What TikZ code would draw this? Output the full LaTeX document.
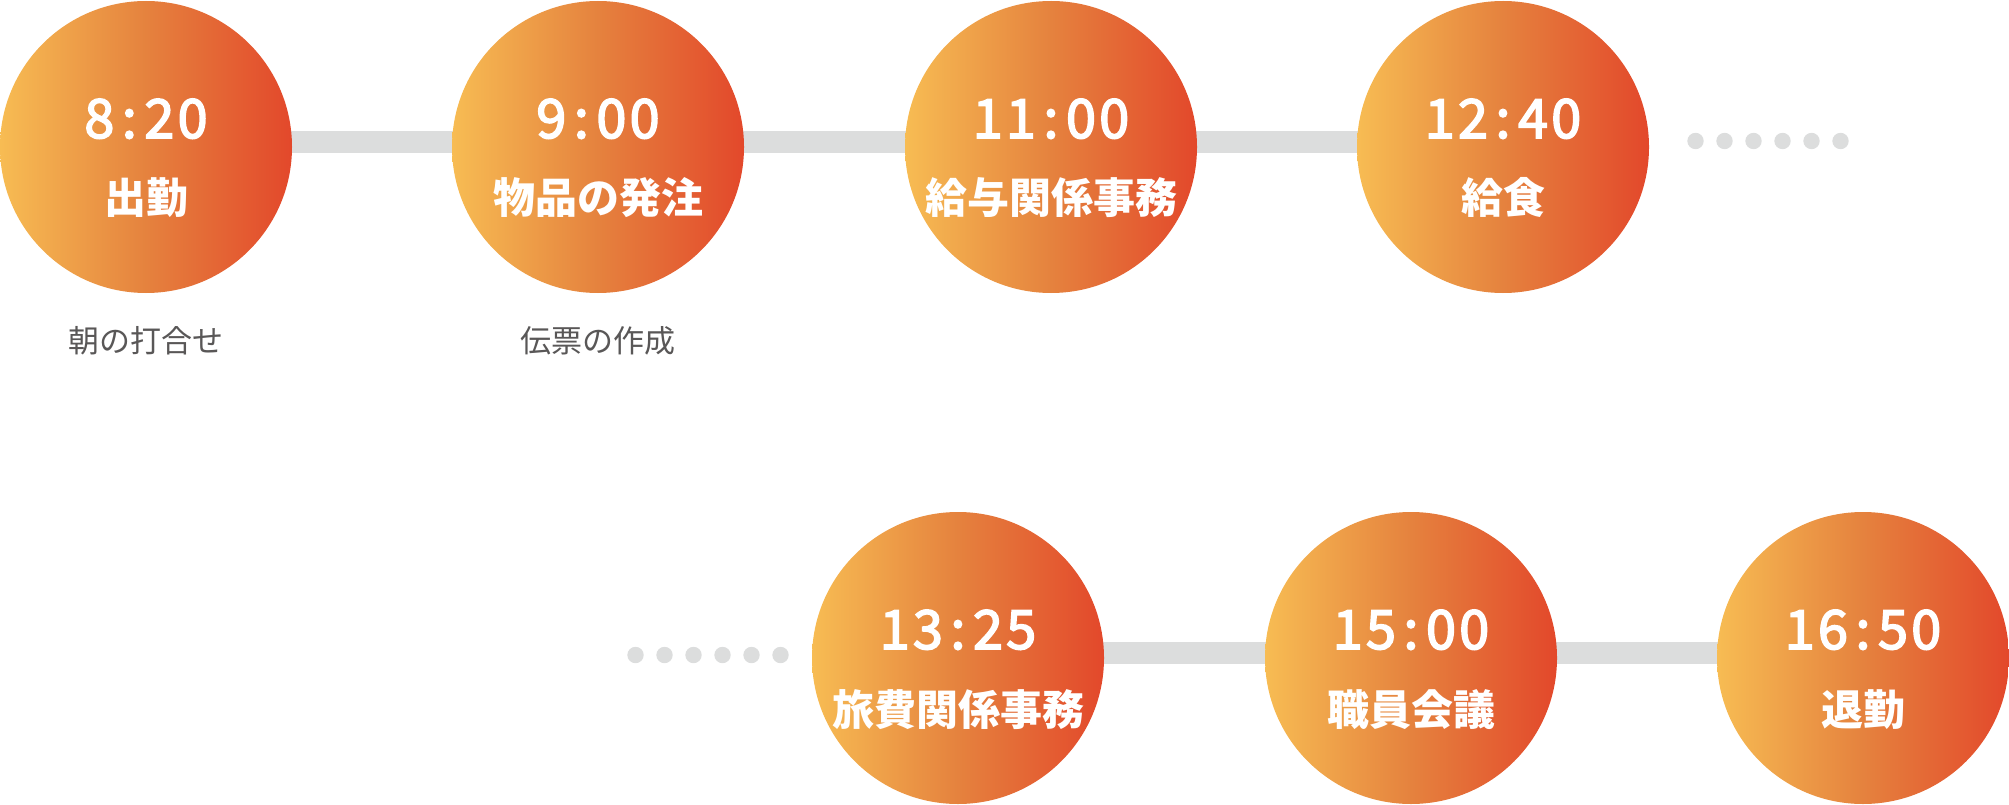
\documentclass[tikz,border=0pt]{standalone}
\usepackage{fontspec}
\newfontfamily\jpfont{Noto Sans CJK JP}
\newfontfamily\timefont[LetterSpace=6,FakeBold=3]{Noto Sans CJK JP}
\usetikzlibrary{backgrounds}

\definecolor{bargray}{RGB}{220,221,221}
\definecolor{subgray}{RGB}{89,87,87}
\definecolor{gradleft}{RGB}{247,188,83}
\definecolor{gradmid}{RGB}{229,130,62}
\definecolor{gradright}{RGB}{227,72,43}

\newcommand{\clock}[2]{#1\kern0.14em:\kern0.14em#2}

\begin{document}
\begin{tikzpicture}[x=1pt,y=-1pt,
    timecircle/.style={circle, minimum size=292pt, inner sep=0pt,
      left color=gradleft, right color=gradright, middle color=gradmid},
    timetext/.style={anchor=base, text=white, inner sep=0pt,
      font=\timefont\fontsize{54}{54}\selectfont},
    tasktext/.style={anchor=base, text=white, inner sep=0pt,
      font=\jpfont\bfseries\fontsize{42}{42}\selectfont},
    subtext/.style={anchor=base, text=subgray, inner sep=0pt,
      font=\jpfont\fontsize{31}{31}\selectfont},
    bar/.style={line width=22pt, draw=bargray},
    dot/.style={fill=bargray}]

    \useasboundingbox (0,0) rectangle (2009,805);

    % upper row
    \node[timecircle] (c1) at (146,147) {};
    \node[timecircle] (c2) at (598,147) {};
    \node[timecircle] (c3) at (1051,147) {};
    \node[timecircle] (c4) at (1503,147) {};

    % lower row
    \node[timecircle] (c5) at (958,658) {};
    \node[timecircle] (c6) at (1411,658) {};
    \node[timecircle] (c7) at (1863,658) {};

    % bars
    \begin{scope}[on background layer]
        \draw[bar] ([yshift=5pt]c1.center) -- ([yshift=5pt]c2.center);
        \draw[bar] ([yshift=5pt]c2.center) -- ([yshift=5pt]c3.center);
        \draw[bar] ([yshift=5pt]c3.center) -- ([yshift=5pt]c4.center);
        \draw[bar] ([yshift=5pt]c5.center) -- ([yshift=5pt]c6.center);
        \draw[bar] ([yshift=5pt]c6.center) -- ([yshift=5pt]c7.center);
    \end{scope}

    % times
    \node[timetext] (t1) at ([yshift=9pt]c1.center) {\clock{8}{20}};
    \node[timetext] (t2) at ([yshift=9pt]c2.center) {\clock{9}{00}};
    \node[timetext] (t3) at ([yshift=9pt]c3.center) {\clock{11}{00}};
    \node[timetext] (t4) at ([yshift=9pt]c4.center) {\clock{12}{40}};
    \node[timetext] (t5) at ([yshift=9pt]c5.center) {\clock{13}{25}};
    \node[timetext] (t6) at ([yshift=9pt]c6.center) {\clock{15}{00}};
    \node[timetext] (t7) at ([yshift=9pt]c7.center) {\clock{16}{50}};

    % tasks
    \node[tasktext] (w1) at ([yshift=-67pt]c1.center) {出勤};
    \node[tasktext] (w2) at ([yshift=-67pt]c2.center) {物品の発注};
    \node[tasktext] (w3) at ([yshift=-67pt]c3.center) {給与関係事務};
    \node[tasktext] (w4) at ([yshift=-67pt]c4.center) {給食};
    \node[tasktext] (w5) at ([yshift=-67pt]c5.center) {旅費関係事務};
    \node[tasktext] (w6) at ([yshift=-67pt]c6.center) {職員会議};
    \node[tasktext] (w7) at ([yshift=-67pt]c7.center) {退勤};

    % notes below
    \node[subtext] (n1) at ([yshift=-205pt]c1.center) {朝の打合せ};
    \node[subtext] (n2) at ([yshift=-205pt]c2.center) {伝票の作成};

    % dots
    \fill[dot] (1695.5,141) circle (8.2);
    \fill[dot] (1724.5,141) circle (8.2);
    \fill[dot] (1753.5,141) circle (8.2);
    \fill[dot] (1782.5,141) circle (8.2);
    \fill[dot] (1811.5,141) circle (8.2);
    \fill[dot] (1840.5,141) circle (8.2);

    \fill[dot] (635.5,655) circle (8.2);
    \fill[dot] (664.5,655) circle (8.2);
    \fill[dot] (693.5,655) circle (8.2);
    \fill[dot] (722.5,655) circle (8.2);
    \fill[dot] (751.5,655) circle (8.2);
    \fill[dot] (780.5,655) circle (8.2);
\end{tikzpicture}
\end{document}
